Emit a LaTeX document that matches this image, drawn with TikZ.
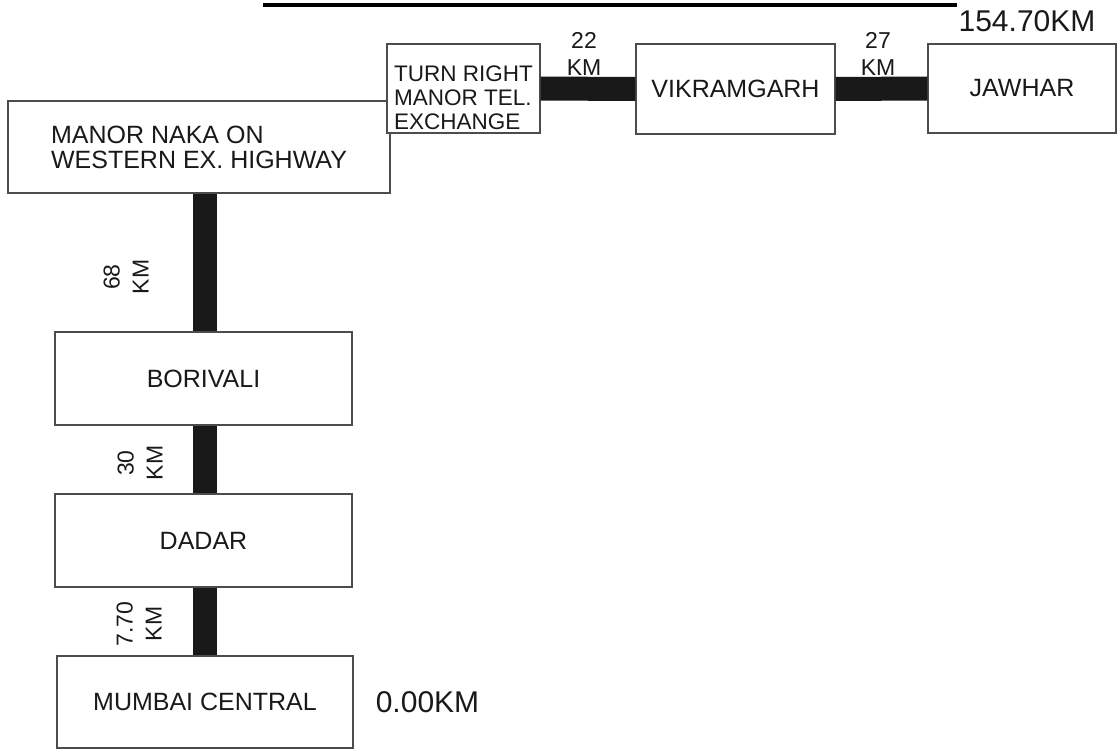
\documentclass[tikz,border=0pt]{standalone}
\usepackage{fontspec}
\setmainfont{Liberation Sans}
\begin{document}
\begin{tikzpicture}[x=1pt,y=-1pt,
  box/.style={draw=black!70,line width=1.3pt,fill=white,inner sep=0pt,font=\fontsize{25}{25}\selectfont,text=black!90},
  bar/.style={draw=black!90,line width=24pt},
  dist/.style={font=\fontsize{23}{27}\selectfont,align=center,inner sep=0pt,text=black!90},
  distv/.style={dist,rotate=90,font=\fontsize{23}{29}\selectfont},
  total/.style={font=\fontsize{30}{30}\selectfont,inner sep=0pt,text=black!90}]
\useasboundingbox (0,0) rectangle (1118,749);
% partially visible underline at the top
\fill[black] (263,3.5) rectangle (957,7);
% boxes
\node[box,minimum width=382,minimum height=92,align=left] (manor) at (199,147) {MANOR NAKA ON\\WESTERN EX. HIGHWAY};
\node[box,minimum width=153,minimum height=89] (turn) at (463.5,88.5) {};
\node[align=left,inner sep=0pt,font=\fontsize{22.5}{24}\selectfont,text=black!90] (turntext) at (463.5,98) {TURN RIGHT\\MANOR TEL.\\EXCHANGE};
\node[box,minimum width=199,minimum height=90] (vikram) at (735.5,89) {VIKRAMGARH};
\node[box,minimum width=188,minimum height=89] (jawhar) at (1022,88.5) {JAWHAR};
\node[box,minimum width=297,minimum height=93] (borivali) at (203.5,378.5) {BORIVALI};
\node[box,minimum width=297,minimum height=93] (dadar) at (203.5,540.5) {DADAR};
\node[box,minimum width=296,minimum height=92] (mumbai) at (205,702) {MUMBAI CENTRAL};
% bars
\draw[bar] (manor.south -| mumbai.north) -- (borivali.north -| mumbai.north);
\draw[bar] (borivali.south -| mumbai.north) -- (dadar.north -| mumbai.north);
\draw[bar] (dadar.south -| mumbai.north) -- (mumbai.north);
\draw[bar] (turn.east) -- (vikram.west);
\draw[bar] (vikram.east) -- (jawhar.west);
% distance labels
\node[dist] (d22) at (584,54) {22\\KM};
\node[dist] (d27) at (878,54) {27\\KM};
\node[distv] (d68) at (126,277) {68\\KM};
\node[distv] (d30) at (140,463) {30\\KM};
\node[distv] (d770) at (139,624) {7.70\\KM};
\node[total] (tend) at (1027,21) {154.70KM};
\node[total] (tstart) at (427.5,702.5) {0.00KM};
\end{tikzpicture}
\end{document}
